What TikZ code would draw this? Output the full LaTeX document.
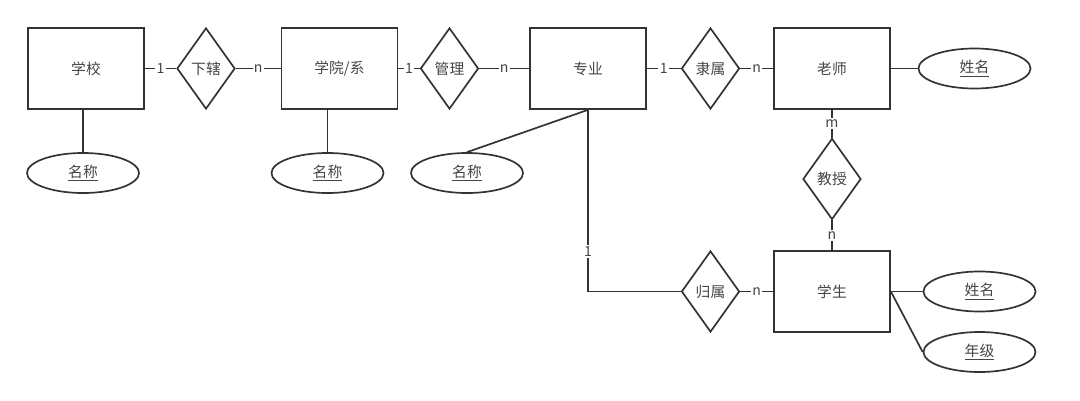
\documentclass[tikz,border=0pt]{standalone}
\usepackage{fontspec}
\setmainfont{Noto Sans CJK SC}
\usetikzlibrary{shapes.geometric}

\definecolor{linegray}{HTML}{333333}
\definecolor{textgray}{HTML}{454545}

\tikzset{
    entity/.style={draw=linegray, line width=1.2pt, minimum width=2.9cm,
        minimum height=2.025cm, inner sep=0pt},
    relation/.style={draw=linegray, line width=1.2pt, diamond, aspect=0.72,
        minimum width=1.45cm, minimum height=2.025cm, inner sep=0pt},
    attribute/.style={draw=linegray, line width=1.2pt, ellipse,
        minimum width=2.8cm, minimum height=1cm, inner sep=0pt},
    card/.style={fill=white, inner sep=1pt, font=\fontsize{10}{10}\selectfont},
    link/.style={draw=linegray, line width=1.2pt}
}

\begin{document}
\begin{tikzpicture}[x=0.025cm, y=-0.025cm, text=textgray,
    font=\fontsize{10.5}{12}\selectfont]
    \useasboundingbox (0,0) rectangle (1080,401);

    \node [entity] (xuexiao) at (86,68.5) {学校};
    \node [entity] (xueyuan) at (339.5,68.5) {学院/系};
    \node [entity] (zhuanye) at (588,68.5) {专业};
    \node [entity] (laoshi) at (832,68.5) {老师};
    \node [entity] (xuesheng) at (832,291.5) {学生};

    \node [relation] (xiaxia) at (206,68.5) {下辖};
    \node [relation] (guanli) at (449.5,68.5) {管理};
    \node [relation] (lishu) at (710.5,68.5) {隶属};
    \node [relation] (jiaoshou) at (832,179) {教授};
    \node [relation] (guishu) at (710.5,291.5) {归属};

    \node [attribute] (mc1) at (83,173) {\underline{名称}};
    \node [attribute] (mc2) at (327.5,173) {\underline{名称}};
    \node [attribute] (mc3) at (467,173) {\underline{名称}};
    \node [attribute] (xm1) at (974.5,68.5) {\underline{姓名}};
    \node [attribute] (xm2) at (979.5,291.5) {\underline{姓名}};
    \node [attribute] (nianji) at (979.5,352) {\underline{年级}};

    \draw [link] (xuexiao) -- node [card] {1} (xiaxia);
    \draw [link] (xiaxia) -- node [card] {n} (xueyuan);
    \draw [link] (xueyuan) -- node [card] {1} (guanli);
    \draw [link] (guanli) -- node [card] {n} (zhuanye);
    \draw [link] (zhuanye) -- node [card] {1} (lishu);
    \draw [link] (lishu) -- node [card] {n} (laoshi);
    \draw [link] (laoshi) -- node [card] {m} (jiaoshou);
    \draw [link] (jiaoshou) -- node [card] {n} (xuesheng);
    \draw [link] (zhuanye.south) |- node [card, pos=0.39] {1} (guishu.west);
    \draw [link] (guishu) -- node [card] {n} (xuesheng);

    \draw [link] (mc1.north) -- (mc1.north |- xuexiao.south);
    \draw [link] (mc2.north) -- (mc2.north |- xueyuan.south);
    \draw [link] (mc3.north) -- (zhuanye.south);
    \draw [link] (laoshi) -- (xm1);
    \draw [link] (xuesheng) -- (xm2);
    \draw [link] (xuesheng.east) -- (nianji.west);
\end{tikzpicture}
\end{document}
